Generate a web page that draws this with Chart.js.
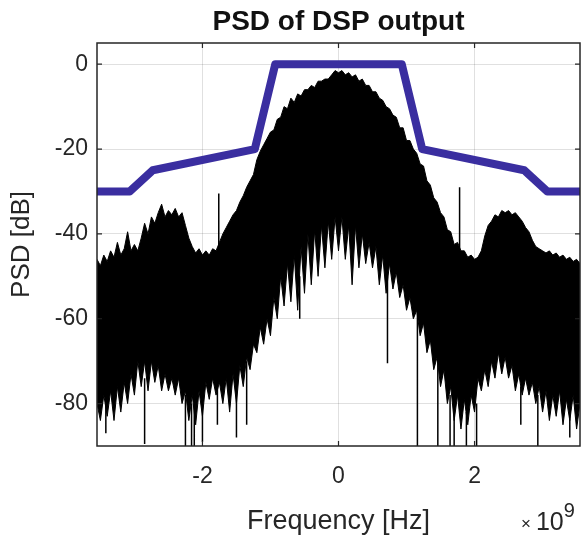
<!DOCTYPE html>
<html>
<head>
<meta charset="utf-8">
<title>PSD of DSP output</title>
<script src="https://cdn.jsdelivr.net/npm/chart.js"></script>
<style>
    html, body { margin: 0; padding: 0; background: #fff; }
    canvas { display: block; }
</style>
</head>
<body>
<canvas id="chart" width="583" height="538"></canvas>
<script>
// frequency axis in units of 1e9 Hz (the axis shows "x 10^9")
const freq = [
    -3.55, -3.50, -3.45, -3.40, -3.35, -3.30, -3.25, -3.20, -3.15, -3.10,
    -3.05, -3.00, -2.95, -2.90, -2.85, -2.80, -2.75, -2.70, -2.65, -2.60,
    -2.55, -2.50, -2.45, -2.40, -2.35, -2.30, -2.25, -2.20, -2.15, -2.10,
    -2.05, -2.00, -1.95, -1.90, -1.85, -1.80, -1.75, -1.70, -1.65, -1.60,
    -1.55, -1.50, -1.45, -1.40, -1.35, -1.30, -1.25, -1.20, -1.15, -1.10,
    -1.05, -1.00, -0.95, -0.90, -0.85, -0.80, -0.75, -0.70, -0.65, -0.60,
    -0.55, -0.50, -0.45, -0.40, -0.35, -0.30, -0.25, -0.20, -0.15, -0.10,
    -0.05, 0.00, 0.05, 0.10, 0.15, 0.20, 0.25, 0.30, 0.35, 0.40,
    0.45, 0.50, 0.55, 0.60, 0.65, 0.70, 0.75, 0.80, 0.85, 0.90,
    0.95, 1.00, 1.05, 1.10, 1.15, 1.20, 1.25, 1.30, 1.35, 1.40,
    1.45, 1.50, 1.55, 1.60, 1.65, 1.70, 1.75, 1.80, 1.85, 1.90,
    1.95, 2.00, 2.05, 2.10, 2.15, 2.20, 2.25, 2.30, 2.35, 2.40,
    2.45, 2.50, 2.55, 2.60, 2.65, 2.70, 2.75, 2.80, 2.85, 2.90,
    2.95, 3.00, 3.05, 3.10, 3.15, 3.20, 3.25, 3.30, 3.35, 3.40,
    3.45, 3.50, 3.55
];

// top edge of the noisy PSD trace (dB)
const psdUpper = [
    -46, -47.5, -45, -46.5, -44, -45.5, -42, -45, -43.5, -39.5,
    -44, -42.5, -44, -41, -37.5, -40, -36, -37.5, -35, -33,
    -36, -34.5, -35.5, -34, -36, -35, -38, -41, -43, -44.5,
    -43.5, -45, -44, -45, -43.5, -44, -42, -40, -38.5, -37,
    -35.5, -34.5, -32.5, -31, -29, -27.5, -26, -22.5, -20.5, -19,
    -17.5, -16, -15.5, -13, -12.5, -10, -10.5, -8, -9, -7,
    -7.5, -6, -6, -5, -5.5, -4, -4, -3.5, -3.5, -2.5,
    -1.5, -2, -1.5, -2.5, -2, -3, -2.5, -4, -3.5, -5,
    -5, -6.5, -6.5, -8, -8.5, -10, -10.5, -12, -12.5, -15,
    -15, -18, -18, -20, -21, -23.5, -24, -27.5, -28.5, -31.5,
    -32.5, -35, -36, -39, -39.5, -42.5, -42, -44, -44, -45.5,
    -45, -46, -45.5, -44, -40.5, -38, -37, -35.5, -36, -34.5,
    -35, -34.5, -35.5, -35, -36, -37, -38.5, -39.5, -41.5, -43,
    -43.5, -44, -44.5, -44, -45, -44.5, -45.5, -45, -46, -45.5,
    -46.5, -46, -47
];

// bottom edge of the noisy PSD trace (dB)
const psdLower = [
    -80, -84, -78, -83, -77, -84, -76, -82, -75, -80,
    -73, -78, -70, -76, -70, -77, -70, -75, -71, -77,
    -73, -77, -74, -78, -74, -80, -77, -84, -78, -85,
    -77, -83, -75, -79, -74, -78, -75, -80, -74, -82,
    -73, -80, -71, -76, -69, -72, -66, -68, -62, -66,
    -60, -64, -55, -60, -50, -57, -47, -56, -45, -58,
    -43, -54, -40, -52, -39, -50, -38, -48, -37, -46,
    -36, -44, -36, -46, -38, -52, -38, -48, -40, -47,
    -42, -48, -43, -52, -45, -54, -47, -53, -49, -55,
    -52, -58, -55, -60, -58, -64, -61, -68, -65, -72,
    -69, -76, -72, -80, -76, -84, -78, -86, -79, -85,
    -78, -82, -74, -77, -72, -76, -70, -74, -68, -73,
    -69, -74, -71, -77, -73, -78, -74, -78, -75, -80,
    -76, -82, -77, -84, -78, -83, -77, -85, -79, -84,
    -78, -86, -80
];

// single deep / tall spikes of the trace
const spikeFreq = [-3.42, -2.85, -2.25, -2.16, -2.12, -2.0, -1.78, -1.76, -1.5, -1.35, -0.57, 0.72, 1.16, 1.46, 1.64, 1.70, 1.78, 1.88, 2.03, 2.68, 2.93, 3.40];
const spikeFrom = [-80, -74, -78, -80, -80, -80, -76, -44, -76, -70, -50, -50, -58, -68, -78, -80, -44, -82, -80, -76, -78, -82];
const spikeTo   = [-87, -89.5, -90, -90, -90, -89, -85, -30.5, -88, -85, -60, -70.5, -90, -90, -90, -90, -29, -90, -90, -85, -90, -88];

// spectral mask
const maskFreq = [-3.55, -3.07, -2.73, -1.23, -0.93, 0.93, 1.23, 2.73, 3.07, 3.55];
const maskLevel = [-30, -30, -25, -20, 0, 0, -20, -25, -30, -30];

const xTicks = [-2, 0, 2];
const yTicks = [-80, -60, -40, -20, 0];

const titleText = 'PSD of DSP output';
const fontFamily = '"Liberation Sans", Arial, Helvetica, sans-serif';
const textColor = '#262626';

function toPoints(xs, ys) {
    return xs.map((x, i) => ({ x: x, y: ys[i] }));
}

function spikePoints() {
    let pts = [];
    for (let i = 0; i < spikeFreq.length; i++) {
        pts.push({ x: spikeFreq[i], y: spikeFrom[i] });
        pts.push({ x: spikeFreq[i], y: spikeTo[i] });
        pts.push({ x: spikeFreq[i], y: null });
    }
    return pts;
}

// box with inward tick marks, title over the axes, and the x10^9 exponent
const matlabAxes = {
    id: 'matlabAxes',
    afterDatasetsDraw(chart) {
        const ctx = chart.ctx;
        const a = chart.chartArea;
        const xs = chart.scales.x;
        const ys = chart.scales.y;
        ctx.save();
        ctx.strokeStyle = textColor;
        ctx.lineWidth = 1.5;
        ctx.strokeRect(a.left, a.top, a.right - a.left, a.bottom - a.top);
        ctx.lineWidth = 1.2;
        ctx.beginPath();
        xTicks.forEach(v => {
            const px = xs.getPixelForValue(v);
            ctx.moveTo(px, a.bottom); ctx.lineTo(px, a.bottom - 5);
            ctx.moveTo(px, a.top); ctx.lineTo(px, a.top + 5);
        });
        yTicks.forEach(v => {
            const py = ys.getPixelForValue(v);
            ctx.moveTo(a.left, py); ctx.lineTo(a.left + 5, py);
            ctx.moveTo(a.right, py); ctx.lineTo(a.right - 5, py);
        });
        ctx.stroke();
        ctx.restore();
    },
    afterDraw(chart) {
        const ctx = chart.ctx;
        const a = chart.chartArea;
        ctx.save();

        ctx.fillStyle = '#111';
        ctx.textAlign = 'center';
        ctx.textBaseline = 'alphabetic';
        ctx.font = 'bold 28px ' + fontFamily;
        ctx.fillText(titleText, (a.left + a.right) / 2, 30);

        ctx.fillStyle = textColor;
        ctx.textAlign = 'left';
        let x = a.right - 59;
        let y = 530;
        ctx.font = '17px ' + fontFamily;
        ctx.fillText('\u00d7', x, y - 1);
        x += ctx.measureText('\u00d7').width + 5;
        ctx.font = '25px ' + fontFamily;
        ctx.fillText('10', x, y);
        x += ctx.measureText('10').width;
        ctx.font = '20px ' + fontFamily;
        ctx.fillText('9', x, y - 13);
        ctx.restore();
    }
};

function renderChart() {
    const options = {
        type: 'line',
        data: {
            datasets: [
                {
                    label: 'Mask',
                    data: toPoints(maskFreq, maskLevel),
                    borderColor: '#3a2ea0',
                    borderWidth: 8,
                    borderJoinStyle: 'round',
                    pointRadius: 0,
                    fill: false,
                    clip: 0
                },
                {
                    label: 'Spikes',
                    data: spikePoints(),
                    borderColor: '#000',
                    borderWidth: 1.5,
                    pointRadius: 0,
                    spanGaps: false,
                    fill: false
                },
                {
                    label: 'PSD upper',
                    data: toPoints(freq, psdUpper),
                    borderColor: '#000',
                    backgroundColor: '#000',
                    borderWidth: 1,
                    pointRadius: 0,
                    fill: '+1'
                },
                {
                    label: 'PSD lower',
                    data: toPoints(freq, psdLower),
                    borderColor: '#000',
                    borderWidth: 1,
                    pointRadius: 0,
                    fill: false
                }
            ]
        },
        options: {
            responsive: false,
            animation: false,
            devicePixelRatio: 1,
            layout: { padding: { left: 0, right: 3, top: 43, bottom: 0 } },
            elements: { line: { tension: 0 } },
            plugins: {
                legend: { display: false },
                tooltip: { enabled: false },
                title: { display: false }
            },
            scales: {
                x: {
                    type: 'linear',
                    min: -3.55,
                    max: 3.55,
                    offset: false,
                    afterBuildTicks: (scale) => { scale.ticks = xTicks.map(v => ({ value: v })); },
                    afterFit: (scale) => { scale.height = 92; },
                    grid: { color: 'rgba(0,0,0,0.12)', drawTicks: false },
                    border: { display: false },
                    ticks: {
                        color: textColor,
                        padding: 17,
                        maxRotation: 0,
                        font: { family: fontFamily, size: 23 }
                    },
                    title: {
                        display: true,
                        text: 'Frequency [Hz]',
                        color: textColor,
                        font: { family: fontFamily, size: 27 },
                        padding: 0
                    }
                },
                y: {
                    type: 'linear',
                    min: -90,
                    max: 5,
                    afterBuildTicks: (scale) => { scale.ticks = yTicks.map(v => ({ value: v })); },
                    afterFit: (scale) => { scale.width = 97; },
                    grid: { color: 'rgba(0,0,0,0.12)', drawTicks: false },
                    border: { display: false },
                    ticks: {
                        color: textColor,
                        padding: 9,
                        font: { family: fontFamily, size: 23 }
                    },
                    title: {
                        display: true,
                        text: 'PSD [dB]',
                        color: textColor,
                        font: { family: fontFamily, size: 26 },
                        padding: { top: 6, bottom: 0 }
                    }
                }
            }
        },
        plugins: [matlabAxes]
    };

    return new Chart(document.getElementById('chart'), options);
}

window.theChart = renderChart();
</script>
</body>
</html>
